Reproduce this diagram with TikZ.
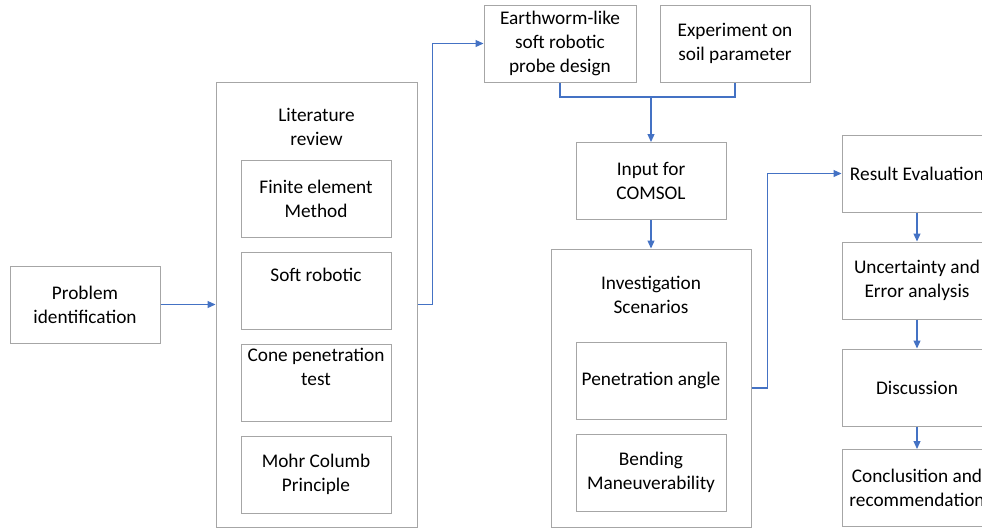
\documentclass[tikz,border=0pt]{standalone}
\usepackage{fontspec}
\setmainfont{Carlito}
\usetikzlibrary{arrows.meta,positioning}
\definecolor{boxgray}{RGB}{166,166,166}
\definecolor{flowblue}{RGB}{68,114,196}
\tikzset{
    box/.style={draw=boxgray, line width=1pt, minimum width=150pt, minimum height=77pt, align=center, inner sep=0},
    outer/.style={draw=boxgray, line width=1pt, inner sep=0},
    title/.style={align=center, inner sep=0},
    flow/.style={draw=flowblue, line width=1.2pt, -{Triangle[length=8pt,width=7pt]}}
}

\begin{document}
\begin{tikzpicture}[x=1pt, y=-1pt, font=\fontsize{19.3}{24}\selectfont, node distance=14pt]
    \useasboundingbox (0,0) rectangle (982,528);
    \clip (0,0) rectangle (982,528);
    \node[box] (prob) at (85,304.5) {Problem\\identification};
    \node[outer, minimum width=201pt, minimum height=445pt] (lit) at (316.5,304.5) {};
    \node[title] (litT) at (316.5,126.5) {Literature\\review};
    \node[box] (fem) at (316,198.5) {Finite element\\Method};
    \node[box, below=of fem] (soft) {Soft robotic\\ \strut};
    \node[box, below=of soft] (cpt) {Cone penetration\\test\\ \strut};
    \node[box, below=of cpt] (mohr) {Mohr Columb\\Principle};
    \node[box, minimum width=152pt] (worm) at (560,43.5) {Earthworm-like\\soft robotic\\probe design};
    \node[box] (exp) at (735,43.5) {Experiment on\\soil parameter};
    \node[box] (comsol) at (651,181) {Input for\\COMSOL};
    \node[outer, minimum width=200pt, minimum height=278pt] (inv) at (651,388) {};
    \node[title] (invT) at (651,294.5) {Investigation\\Scenarios};
    \node[box] (pen) at (651,380.5) {Penetration angle};
    \node[box, below=of pen] (bend) {Bending\\Maneuverability};
    \node[box] (res) at (917,173.5) {Result Evaluation};
    \node[box] (unc) at (917,280.5) {Uncertainty and\\Error analysis};
    \node[box] (disc) at (917,387.5) {Discussion};
    \node[box] (conc) at (917,488) {Conclusition and\\recommendation};
    \coordinate (join) at (comsol.north |- 0,97);
    \draw[flow] (prob) -- (lit);
    \draw[flow] (lit.east) -- ++(15,0) |- (worm.west);
    \draw[draw=flowblue, line width=1.2pt] (worm.south) |- (join) -| (exp.south);
    \draw[flow] (join) -- (comsol);
    \draw[flow] (comsol) -- (inv);
    \draw[flow] (inv.east) -- ++(16,0) |- (res.west);
    \draw[flow] (res) -- (unc);
    \draw[flow] (unc) -- (disc);
    \draw[flow] (disc) -- (conc);
\end{tikzpicture}
\end{document}
